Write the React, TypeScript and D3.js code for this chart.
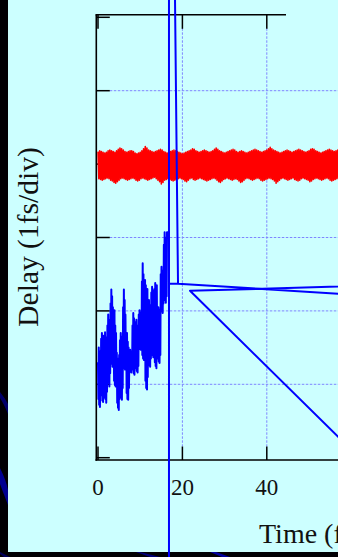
import React from "react";
import * as d3 from "d3";

const W = 338;
const H = 557;

// axis ticks
const xTicks = [0, 20, 40];
const xTickLabels = ["0", "20", "40"];
const yTicks = [0, 1, 2, 3, 4, 5, 6];
const yGrid = [1, 2, 3, 4, 5];
const xGrid = [20, 40];
const topTicks = [0, 20, 40];

// red trace (delay, div) sampled every 0.2 time units: alternating peaks/troughs
const redStart = 0;
const redStep = 0.2;
const redPeaks = [
  4.17,4.18,4.17,4.16,4.15,4.16,4.18,4.19,4.18,4.17,4.16,4.18,4.20,4.22,4.21,4.19,4.17,4.16,4.17,4.18,4.18,4.17,4.15,4.14,4.15,4.16,4.18,4.21,4.24,4.22,
  4.19,4.18,4.17,4.16,4.17,4.18,4.19,4.20,4.19,4.17,4.16,4.15,4.16,4.17,4.18,4.19,4.18,4.17,4.16,4.15,4.14,4.15,4.16,4.17,4.18,4.19,4.21,4.20,4.18,4.17,
  4.16,4.17,4.18,4.19,4.18,4.17,4.16,4.17,4.18,4.20,4.22,4.20,4.18,4.17,4.16,4.15,4.16,4.17,4.18,4.19,4.20,4.19,4.17,4.16,4.17,4.18,4.17,4.16,4.15,4.16,
  4.17,4.18,4.19,4.20,4.19,4.18,4.17,4.16,4.17,4.18,4.19,4.21,4.23,4.21,4.19,4.18,4.17,4.16,4.15,4.16,4.17,4.18,4.19,4.18,4.17,4.16,4.17,4.18,4.19,4.20,
  4.19,4.18,4.17,4.16,4.17,4.18,4.20,4.21,4.20,4.18,4.17,4.16,4.15,4.16,4.17,4.18,4.19,4.20,4.19,4.18,4.17,4.18,4.19,4.21,4.22,4.20,4.18,4.17,4.16,4.17
];
const redTroughs = [
  3.80,3.79,3.78,3.79,3.80,3.81,3.80,3.78,3.77,3.75,3.74,3.76,3.78,3.80,3.81,3.80,3.79,3.78,3.79,3.80,3.81,3.80,3.78,3.77,3.78,3.80,3.81,3.80,3.79,3.78,
  3.79,3.80,3.81,3.82,3.80,3.78,3.76,3.73,3.75,3.78,3.79,3.80,3.79,3.78,3.77,3.78,3.79,3.80,3.81,3.80,3.79,3.77,3.76,3.78,3.80,3.81,3.79,3.78,3.79,3.80,
  3.81,3.80,3.79,3.78,3.77,3.78,3.79,3.80,3.81,3.80,3.78,3.76,3.75,3.77,3.79,3.80,3.81,3.80,3.79,3.78,3.79,3.80,3.79,3.77,3.75,3.76,3.78,3.80,3.81,3.80,
  3.79,3.78,3.79,3.80,3.81,3.80,3.78,3.77,3.78,3.79,3.80,3.81,3.80,3.79,3.77,3.74,3.76,3.78,3.80,3.81,3.80,3.79,3.78,3.79,3.80,3.81,3.79,3.78,3.77,3.78,
  3.80,3.81,3.80,3.79,3.78,3.76,3.77,3.79,3.80,3.81,3.80,3.79,3.78,3.79,3.80,3.81,3.80,3.78,3.77,3.78,3.79,3.80,3.81,3.80,3.79,3.78,3.77,3.79,3.80,3.79
];

// blue trace: noisy part sampled every 0.0929 time units
const blueStart = 0;
const blueStep = 0.0929;
const blueNoise = [
  1.30,0.80,1.50,0.72,1.38,0.69,1.45,0.85, 1.62,0.90,1.70,0.78,1.55,0.76,1.66,0.95,
  1.58,0.82,1.71,0.80,1.64,0.75,1.50,0.90, 1.80,1.10,1.95,1.02,1.88,0.97,1.75,1.15,
  2.10,1.35,2.29,1.28,2.20,1.24,2.05,1.40, 1.95,1.05,2.01,0.99,1.80,0.97,1.70,1.10,
  1.43,0.75,1.35,0.68,1.30,0.65,1.40,0.80, 1.60,0.90,1.70,0.82,1.65,0.79,1.55,0.95,
  2.05,1.30,2.29,1.22,2.15,1.20,1.95,1.35, 1.65,0.88,1.70,0.80,1.58,0.79,1.50,0.95,
  1.40,1.20,1.47,1.17,1.42,1.16,1.45,1.22, 1.80,1.20,1.97,1.15,1.90,1.13,1.75,1.25,
  1.85,1.22,1.88,1.18,1.70,1.16,1.80,1.25, 1.95,1.52,2.01,1.48,1.90,1.47,1.98,1.55,
  2.40,1.40,2.65,1.35,2.50,1.33,2.30,1.45, 2.42,1.05,2.35,0.95,2.25,0.93,2.30,1.10,
  2.10,1.30,2.15,1.26,2.00,1.24,2.08,1.35, 2.25,1.45,2.33,1.40,2.20,1.37,2.28,1.50,
  2.30,1.30,2.38,1.25,2.25,1.22,2.35,1.35, 2.00,1.35,2.05,1.31,1.95,1.29,2.02,1.40,
  2.50,2.05,2.60,2.00,2.55,1.97,2.45,2.10, 2.90,2.20,3.07,2.15,2.95,2.11,3.00,2.20, 3.07
];
// blue trace: remaining (time, delay) points, many outside the visible range
const blueTailT = [16.82, 16.82, 16.82, 16.82, 18.96, 17.56, 18.96, 100, 100, 21.8, 100];
const blueTailD = [3.07, 10, -2, 2.37, 2.37, 10, 2.37, 2.08, 2.4, 2.275, -2.16];

export default function App() {
  const x = d3.scaleLinear().domain([0, 100]).range([98, 520]);
  const y = d3.scaleLinear().domain([0, 6]).range([457.7, 17.3]);

  const frameL = 96.3;
  const frameT = 14.8;
  const frameB = 460;
  const frameTopEnd = 286;
  const tickLen = 13.5;

  const redPts: [number, number][] = [];
  redPeaks.forEach((p, i) => {
    redPts.push([redStart + redStep * (2 * i), p]);
    redPts.push([redStart + redStep * (2 * i + 1), redTroughs[i]]);
  });
  const bluePts: [number, number][] = blueNoise.map((v, i) => [blueStart + blueStep * i, v]);
  blueTailT.forEach((t, i) => bluePts.push([t, blueTailD[i]]));

  const line = d3
    .line<[number, number]>()
    .x((d) => x(d[0]))
    .y((d) => y(d[1]));

  const serif = "'Liberation Serif', 'Times New Roman', serif";
  const gridColor = "#7f86ff";

  return (
    <svg
      width={W}
      height={H}
      style={{ position: "absolute", left: 0, top: 0, display: "block" }}
    >
      {/* slide background */}
      <rect x={0} y={0} width={W} height={H} fill="#000004" />
      <path d="M0,392 Q5,398 8,404 L8,414 Q4,404 0,398 Z" fill="#00006a" />
      <path d="M0,468 Q6,480 8,490 L8,505 Q3,492 0,484 Z" fill="#000090" />
      <path d="M0,552 L10,557 L4,557 L0,554 Z" fill="#00005a" />
      <path d="M140,552 L160,557 L150,557 L136,552 Z" fill="#00007a" />
      <path d="M216,552 L230,557 L222,557 L210,552 Z" fill="#0000a0" />
      <rect x={8} y={0} width={W - 8} height={552} fill="#ccffff" />

      {/* grid */}
      {yGrid.map((d) => (
        <line
          key={"gy" + d}
          x1={frameL + tickLen}
          x2={W}
          y1={y(d)}
          y2={y(d)}
          stroke={gridColor}
          strokeWidth={1}
          strokeDasharray="2.5 1.5"
        />
      ))}
      {xGrid.map((t) => (
        <line
          key={"gx" + t}
          x1={x(t)}
          x2={x(t)}
          y1={frameT + tickLen}
          y2={frameB - tickLen}
          stroke={gridColor}
          strokeWidth={1}
          strokeDasharray="2.5 1.5"
        />
      ))}

      {/* frame */}
      <line x1={frameL} x2={frameL} y1={frameT} y2={frameB + 0.8} stroke="#000" strokeWidth={1.6} />
      <line x1={frameL - 0.8} x2={frameTopEnd} y1={frameT} y2={frameT} stroke="#000" strokeWidth={1.6} />
      <line x1={frameL - 0.8} x2={W} y1={frameB} y2={frameB} stroke="#000" strokeWidth={1.6} />

      {/* ticks */}
      {yTicks.map((d) => (
        <line key={"ty" + d} x1={frameL} x2={frameL + tickLen} y1={y(d)} y2={y(d)} stroke="#000" strokeWidth={1.5} />
      ))}
      {topTicks.map((t) => (
        <line key={"tt" + t} x1={x(t)} x2={x(t)} y1={frameT} y2={frameT + tickLen + 0.5} stroke="#000" strokeWidth={1.5} />
      ))}
      {xTicks.map((t) => (
        <line key={"tb" + t} x1={x(t)} x2={x(t)} y1={frameB} y2={frameB - tickLen} stroke="#000" strokeWidth={1.5} />
      ))}

      {/* tick labels */}
      {xTicks.map((t, i) => (
        <text
          key={"lx" + t}
          x={x(t)}
          y={495}
          textAnchor="middle"
          fontFamily={serif}
          fontSize={23}
          fill="#111"
        >
          {xTickLabels[i]}
        </text>
      ))}

      {/* axis titles */}
      <text
        transform={`translate(38.3,237) rotate(-90)`}
        textAnchor="middle"
        fontFamily={serif}
        fontSize={29.5}
        fill="#111"
      >
        Delay (1fs/div)
      </text>
      <text x={259} y={542.7} fontFamily={serif} fontSize={28} fill="#111">
        Time (fs)
      </text>

      {/* series */}
      <path d={line(redPts) || ""} fill="none" stroke="#ff0000" strokeWidth={1.6} strokeLinejoin="round" />
      <path d={line(bluePts) || ""} fill="none" stroke="#0000ff" strokeWidth={2} strokeLinejoin="round" />
    </svg>
  );
}
